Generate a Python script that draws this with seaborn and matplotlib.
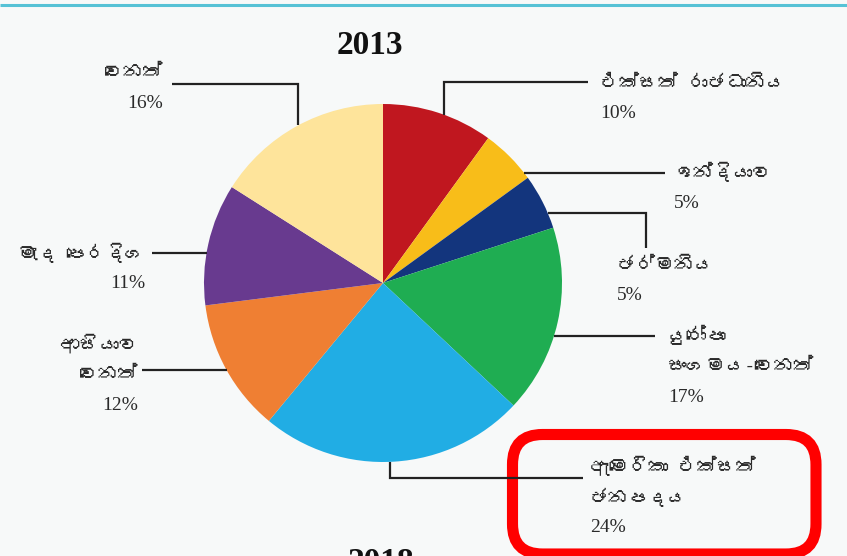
"""
Grafico de torta 2013: participacion por destino (etiquetas en cingales).
"""

import matplotlib

matplotlib.use("Agg")

import matplotlib.pyplot as plt
import numpy as np
import seaborn as sns
from matplotlib import font_manager
from matplotlib.ft2font import FT2Font
from matplotlib.patches import FancyBboxPatch

ANCHO_PX = 847
ALTO_PX = 556

TITULO = "2013"
TITULO_SIGUIENTE = "2018"

PAISES = [
    "එක්සත් රාජධානිය",
    "ඉන්දියාව",
    "ජර්මනිය",
    "යුරෝපා\nසංගමය-වෙනත්",
    "ඇමෙරිකා එක්සත්\nජනපදය",
    "ආසියාව\nවෙනත්",
    "මැද පෙරදිග",
    "වෙනත්",
]
PORCENTAJES = [10, 5, 5, 17, 24, 12, 11, 16]
COLORES = [
    "#c0171f",
    "#f8bd19",
    "#13357d",
    "#1fad52",
    "#21ade4",
    "#ef7f33",
    "#683a8f",
    "#fee49b",
]

FONDO = "#f7f9f9"
CENTRO = (383, 283)  # pixeles desde arriba
RADIO = 179
PASO_LINEA = 31

# posicion del texto: x, y de la primera linea, alineacion
POS_TEXTO = [
    (600, 82, "left"),
    (674, 172, "left"),
    (617, 265, "left"),
    (668, 335, "left"),
    (590, 466, "left"),
    (138, 343, "right"),
    (145, 253, "right"),
    (163, 72, "right"),
]


def buscar_fuente_cingales():
    """Busca una fuente instalada que tenga glifos cingaleses."""
    for fuente in font_manager.fontManager.ttflist:
        try:
            mapa = FT2Font(fuente.fname).get_charmap()
        except Exception:
            continue
        if 0x0DBD in mapa and 0x0D9A in mapa:
            return fuente.name
    return None


def y_px(y):
    """Convierte pixeles desde arriba a coordenadas del eje."""
    return ALTO_PX - y


def x_en_circulo(y, lado):
    dy = y - CENTRO[1]
    dx = np.sqrt(RADIO ** 2 - dy ** 2)
    return CENTRO[0] + lado * dx


def y_en_circulo(x, lado):
    dx = x - CENTRO[0]
    dy = np.sqrt(RADIO ** 2 - dx ** 2)
    return CENTRO[1] + lado * dy


def lineas_guia():
    """Trazos de las lineas guia (en pixeles desde arriba)."""
    return [
        [(444, y_en_circulo(444, -1)), (444, 82), (588, 82)],
        [(x_en_circulo(173, 1), 173), (665, 173)],
        [(x_en_circulo(213, 1), 213), (646, 213), (646, 248)],
        [(x_en_circulo(336, 1), 336), (655, 336)],
        [(390, y_en_circulo(390, 1)), (390, 478), (583, 478)],
        [(x_en_circulo(370, -1), 370), (142, 370)],
        [(x_en_circulo(253, -1), 253), (152, 253)],
        [(298, y_en_circulo(298, -1)), (298, 84), (172, 84)],
    ]


def main():
    sns.set_theme(style="white")
    fuente_si = buscar_fuente_cingales()
    familia_si = [f for f in [fuente_si, "Liberation Serif", "DejaVu Sans"] if f]
    familia_num = ["Liberation Serif", "DejaVu Serif"]
    plt.rcParams["font.family"] = familia_si

    fig = plt.figure(figsize=(ANCHO_PX / 100, ALTO_PX / 100), dpi=100)
    fig.patch.set_facecolor(FONDO)
    ax = fig.add_axes([0, 0, 1, 1])
    ax.set_facecolor(FONDO)

    ax.pie(
        PORCENTAJES,
        colors=COLORES,
        startangle=90,
        counterclock=False,
        center=(CENTRO[0], y_px(CENTRO[1])),
        radius=RADIO,
        wedgeprops=dict(linewidth=0),
    )
    ax.set_xlim(0, ANCHO_PX)
    ax.set_ylim(0, ALTO_PX)
    ax.set_aspect("equal")
    ax.axis("off")

    # linea celeste superior
    ax.plot([0, ANCHO_PX], [y_px(4.5), y_px(4.5)], color="#56c2d6", lw=2.2,
            solid_capstyle="butt")

    for trazo in lineas_guia():
        xs = [p[0] for p in trazo]
        ys = [y_px(p[1]) for p in trazo]
        ax.plot(xs, ys, color="#222222", lw=1.6, solid_capstyle="butt",
                solid_joinstyle="miter")

    for nombre, pct, (x, y0, ha) in zip(PAISES, PORCENTAJES, POS_TEXTO):
        renglones = nombre.split("\n")
        for i, renglon in enumerate(renglones):
            ax.text(
                x,
                y_px(y0 + i * PASO_LINEA),
                renglon,
                ha=ha,
                va="center",
                fontsize=14,
                color="#2a2a2a",
                family=familia_si,
            )
        ax.text(
            x,
            y_px(y0 + len(renglones) * PASO_LINEA),
            f"{pct}%",
            ha=ha,
            va="center",
            fontsize=14,
            color="#2a2a2a",
            family=familia_num,
        )

    ax.text(370, y_px(45), TITULO, ha="center", va="center", fontsize=24,
            fontweight="bold", family=familia_num, color="#111111")
    ax.text(381, y_px(547), TITULO_SIGUIENTE, ha="center", va="top",
            fontsize=24, fontweight="bold", family=familia_num,
            color="#111111")

    recuadro = FancyBboxPatch(
        (512.5, y_px(554)),
        816 - 512.5,
        554 - 434.5,
        boxstyle="round,pad=0,rounding_size=30",
        facecolor="none",
        edgecolor="#ff0000",
        linewidth=8,
        clip_on=False,
    )
    ax.add_patch(recuadro)

    fig.savefig("out.png", dpi=100, facecolor=FONDO)
    plt.close(fig)


if __name__ == "__main__":
    main()
